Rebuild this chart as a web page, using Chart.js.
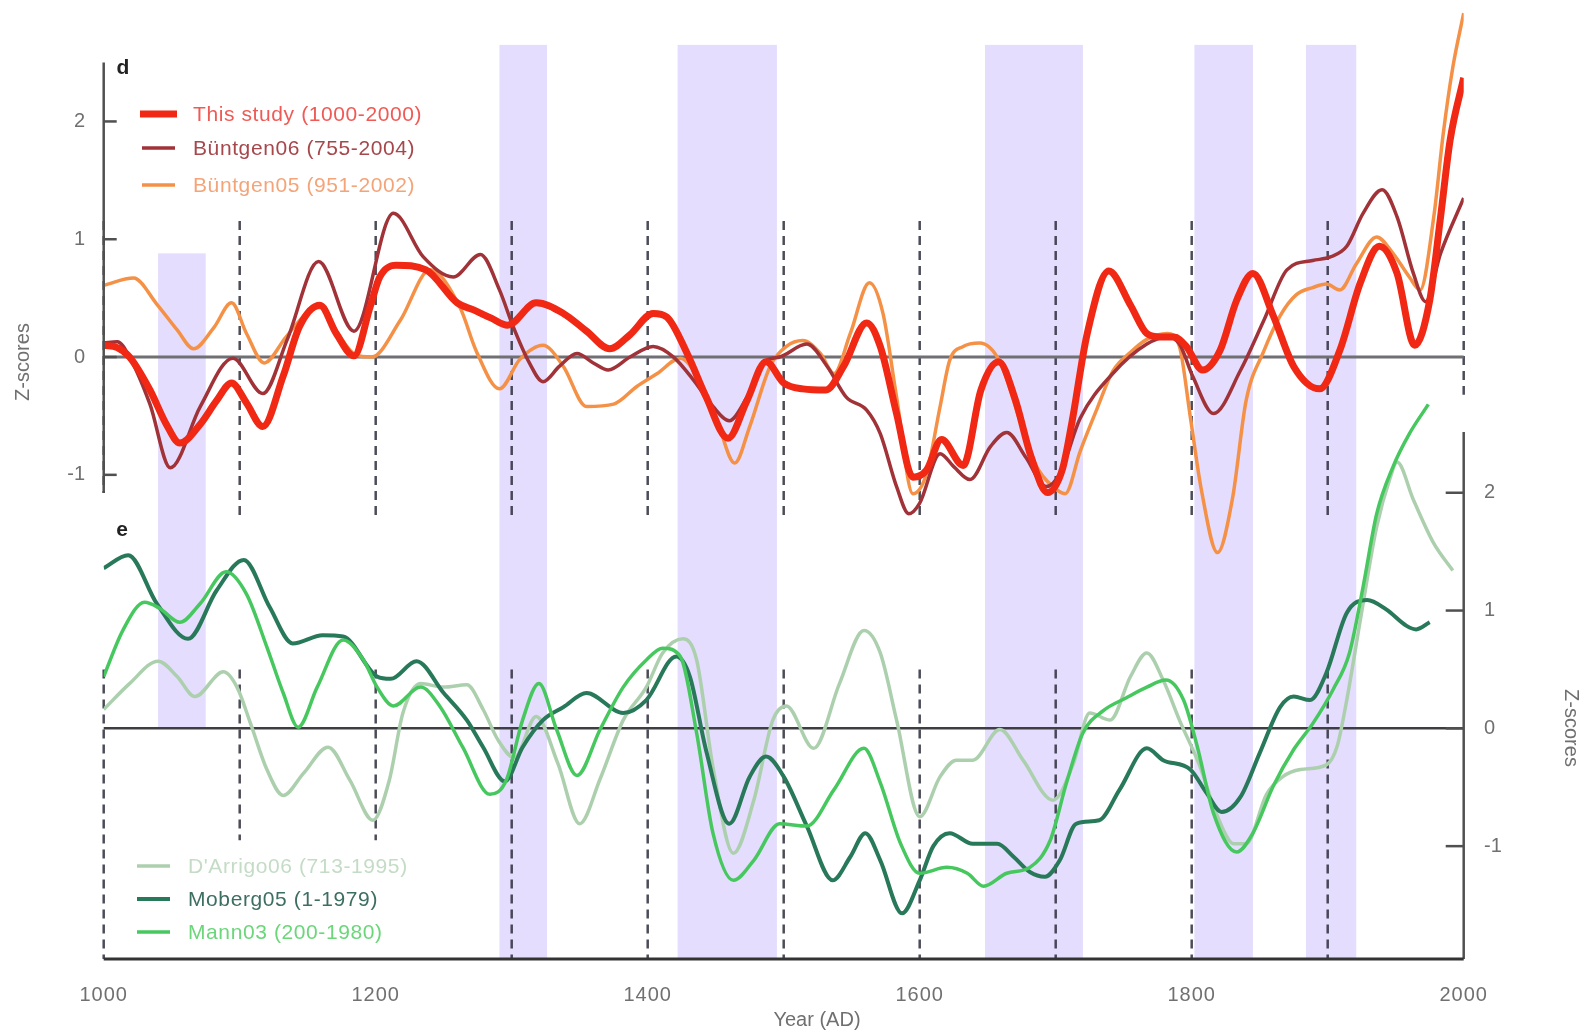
<!DOCTYPE html>
<html>
<head>
<meta charset="utf-8">
<title>Z-scores 1000-2000 AD</title>
<script src="https://cdn.jsdelivr.net/npm/chart.js@4.4.1/dist/chart.umd.min.js"></script>
<style>
  html, body { margin: 0; padding: 0; background: #fff; }
  canvas { display: block; }
</style>
</head>
<body>
<canvas id="chart" width="1591" height="1034"></canvas>
<script>
/* PANEL D - left axis */
const studyYears = [1000, 1010, 1019, 1034, 1046, 1056, 1071, 1083, 1094, 1105, 1117, 1132, 1144, 1159, 1171, 1184, 1196, 1203, 1215, 1237, 1260, 1272, 1285, 1297, 1318, 1338, 1355, 1372, 1387, 1404, 1414, 1429, 1443, 1459, 1473, 1487, 1500, 1514, 1531, 1544, 1561, 1571, 1583, 1595, 1605, 1616, 1632, 1645, 1658, 1670, 1682, 1694, 1705, 1712, 1723, 1739, 1755, 1767, 1777, 1787, 1796, 1808, 1821, 1833, 1845, 1860, 1875, 1894, 1909, 1924, 1938, 1951, 1964, 1975, 1983, 1990, 2000];
const studyZ = [0.10, 0.08, 0.00, -0.28, -0.57, -0.73, -0.57, -0.37, -0.22, -0.39, -0.59, -0.16, 0.26, 0.44, 0.20, 0.01, 0.43, 0.68, 0.78, 0.74, 0.46, 0.40, 0.33, 0.27, 0.46, 0.37, 0.22, 0.07, 0.19, 0.37, 0.34, 0.03, -0.34, -0.69, -0.37, -0.04, -0.22, -0.27, -0.28, -0.08, 0.29, 0.09, -0.48, -1.02, -0.96, -0.70, -0.92, -0.28, -0.04, -0.35, -0.85, -1.15, -0.95, -0.55, 0.19, 0.73, 0.44, 0.20, 0.17, 0.17, 0.09, -0.11, 0.06, 0.48, 0.71, 0.35, -0.08, -0.27, 0.06, 0.63, 0.94, 0.71, 0.10, 0.48, 1.19, 1.84, 2.37];

const b06Years = [1000, 1010, 1019, 1034, 1049, 1071, 1095, 1117, 1135, 1158, 1184, 1213, 1235, 1257, 1277, 1291, 1301, 1313, 1323, 1335, 1348, 1360, 1371, 1387, 1404, 1419, 1434, 1448, 1460, 1473, 1487, 1497, 1517, 1532, 1546, 1561, 1571, 1583, 1592, 1600, 1615, 1625, 1637, 1652, 1664, 1678, 1693, 1703, 1718, 1742, 1767, 1782, 1791, 1801, 1816, 1836, 1853, 1870, 1889, 1902, 1914, 1926, 1940, 1951, 1963, 1972, 1983, 2000];
const b06Z = [0.12, 0.13, 0.00, -0.40, -0.94, -0.42, -0.01, -0.31, 0.15, 0.81, 0.22, 1.22, 0.85, 0.68, 0.87, 0.57, 0.26, -0.05, -0.21, -0.08, 0.03, -0.05, -0.11, 0.00, 0.09, 0.00, -0.20, -0.42, -0.54, -0.34, -0.03, 0.00, 0.11, -0.08, -0.34, -0.45, -0.65, -1.10, -1.33, -1.24, -0.82, -0.93, -1.04, -0.76, -0.64, -0.85, -1.10, -0.99, -0.52, -0.14, 0.11, 0.17, 0.11, -0.17, -0.48, -0.11, 0.31, 0.74, 0.82, 0.85, 0.94, 1.22, 1.42, 1.19, 0.71, 0.47, 0.88, 1.35];

const b05Years = [1000, 1022, 1039, 1054, 1066, 1081, 1094, 1105, 1118, 1134, 1150, 1159, 1172, 1185, 1197, 1218, 1240, 1262, 1274, 1291, 1306, 1323, 1338, 1355, 1375, 1392, 1407, 1424, 1438, 1451, 1464, 1475, 1490, 1502, 1514, 1527, 1537, 1549, 1563, 1573, 1583, 1595, 1605, 1615, 1622, 1632, 1644, 1659, 1674, 1686, 1698, 1707, 1718, 1730, 1742, 1755, 1767, 1782, 1791, 1799, 1807, 1819, 1830, 1840, 1853, 1865, 1877, 1889, 1899, 1909, 1921, 1936, 1948, 1960, 1968, 1978, 1985, 1992, 2000];
const b05Z = [0.61, 0.67, 0.45, 0.23, 0.07, 0.25, 0.46, 0.20, -0.05, 0.17, 0.38, 0.42, 0.20, 0.02, 0.00, 0.31, 0.74, 0.42, 0.05, -0.27, -0.02, 0.10, -0.08, -0.42, -0.40, -0.25, -0.14, -0.01, -0.20, -0.54, -0.90, -0.59, -0.08, 0.09, 0.14, 0.03, -0.14, 0.20, 0.63, 0.37, -0.34, -1.16, -0.99, -0.42, -0.03, 0.09, 0.12, -0.04, -0.55, -0.93, -1.10, -1.16, -0.80, -0.45, -0.12, 0.04, 0.15, 0.20, 0.09, -0.51, -1.12, -1.66, -1.20, -0.37, 0.05, 0.35, 0.53, 0.59, 0.62, 0.57, 0.79, 1.02, 0.88, 0.68, 0.57, 1.19, 1.90, 2.46, 2.92];

/* PANEL E - right axis */
const darrigoYears = [1000, 1019, 1040, 1054, 1067, 1088, 1098, 1108, 1120, 1132, 1147, 1165, 1181, 1198, 1210, 1220, 1233, 1250, 1267, 1279, 1290, 1302, 1318, 1334, 1350, 1365, 1382, 1399, 1411, 1426, 1436, 1448, 1463, 1478, 1492, 1502, 1522, 1541, 1559, 1571, 1583, 1600, 1615, 1627, 1639, 1659, 1676, 1698, 1713, 1725, 1740, 1755, 1767, 1779, 1791, 1806, 1818, 1831, 1840, 1855, 1867, 1880, 1899, 1907, 1914, 1924, 1936, 1946, 1951, 1963, 1978, 1992];
const darrigoZ = [0.16, 0.38, 0.57, 0.44, 0.27, 0.48, 0.35, 0.04, -0.35, -0.57, -0.38, -0.16, -0.44, -0.78, -0.44, 0.13, 0.38, 0.35, 0.37, 0.16, -0.10, -0.25, 0.10, -0.30, -0.81, -0.43, 0.07, 0.35, 0.64, 0.76, 0.58, -0.33, -1.06, -0.61, 0.07, 0.19, -0.17, 0.38, 0.83, 0.64, 0.07, -0.75, -0.41, -0.27, -0.27, -0.01, -0.27, -0.61, -0.30, 0.13, 0.07, 0.44, 0.64, 0.41, 0.07, -0.32, -0.72, -0.98, -0.98, -0.56, -0.41, -0.35, -0.31, -0.15, 0.24, 0.92, 1.71, 2.13, 2.26, 1.94, 1.57, 1.34];

const mobergYears = [1000, 1018, 1039, 1062, 1083, 1103, 1122, 1139, 1161, 1176, 1201, 1211, 1230, 1250, 1267, 1279, 1295, 1308, 1323, 1338, 1355, 1382, 1399, 1421, 1431, 1443, 1460, 1475, 1487, 1500, 1517, 1536, 1549, 1560, 1571, 1587, 1600, 1610, 1622, 1639, 1657, 1669, 1681, 1692, 1703, 1715, 1732, 1747, 1767, 1779, 1799, 1811, 1822, 1836, 1850, 1865, 1875, 1887, 1899, 1914, 1929, 1943, 1958, 1965, 1975];
const mobergZ = [1.36, 1.47, 1.06, 0.76, 1.17, 1.43, 1.03, 0.72, 0.79, 0.78, 0.44, 0.42, 0.57, 0.30, 0.07, -0.16, -0.45, -0.16, 0.07, 0.18, 0.30, 0.13, 0.24, 0.61, 0.44, -0.19, -0.81, -0.41, -0.24, -0.41, -0.83, -1.29, -1.09, -0.89, -1.12, -1.57, -1.29, -1.00, -0.89, -0.98, -0.98, -1.09, -1.22, -1.26, -1.12, -0.81, -0.78, -0.52, -0.17, -0.27, -0.35, -0.55, -0.71, -0.58, -0.21, 0.18, 0.27, 0.24, 0.47, 0.98, 1.09, 1.01, 0.87, 0.84, 0.90];

const mannYears = [1000, 1014, 1030, 1041, 1056, 1071, 1090, 1105, 1120, 1132, 1143, 1157, 1176, 1191, 1201, 1213, 1233, 1247, 1264, 1284, 1296, 1308, 1320, 1333, 1348, 1365, 1382, 1399, 1411, 1424, 1436, 1448, 1463, 1478, 1497, 1517, 1537, 1559, 1571, 1586, 1600, 1620, 1635, 1647, 1664, 1681, 1696, 1708, 1720, 1735, 1752, 1767, 1781, 1794, 1804, 1816, 1833, 1845, 1860, 1875, 1889, 1904, 1916, 1926, 1936, 1948, 1960, 1974];
const mannZ = [0.44, 0.83, 1.07, 1.02, 0.90, 1.06, 1.33, 1.14, 0.69, 0.30, 0.01, 0.35, 0.75, 0.58, 0.35, 0.19, 0.35, 0.19, -0.16, -0.56, -0.44, 0.07, 0.38, -0.01, -0.40, -0.01, 0.35, 0.58, 0.68, 0.61, -0.04, -0.89, -1.29, -1.12, -0.81, -0.83, -0.52, -0.17, -0.46, -0.98, -1.23, -1.18, -1.23, -1.34, -1.23, -1.18, -0.95, -0.46, -0.04, 0.15, 0.26, 0.35, 0.41, 0.24, -0.15, -0.72, -1.05, -0.89, -0.49, -0.18, 0.04, 0.33, 0.64, 1.20, 1.82, 2.22, 2.50, 2.75];

/* shaded periods and axes */
const bandStart = [1040, 1291, 1422, 1648, 1802, 1884];
const bandEnd = [1075, 1326, 1495, 1720, 1845, 1921];
const centuries = [1000, 1100, 1200, 1300, 1400, 1500, 1600, 1700, 1800, 1900, 2000];
const yearTicks = [1000, 1200, 1400, 1600, 1800, 2000];
const zTicks = [-1, 0, 1, 2];

const FONT = '"Liberation Sans", Arial, sans-serif';

function points(xs, ys) {
  return xs.map((x, i) => ({ x: x, y: ys[i] }));
}

function seg(ctx, x0, y0, x1, y1) {
  ctx.beginPath();
  ctx.moveTo(x0, y0);
  ctx.lineTo(x1, y1);
  ctx.stroke();
}

const panelPlugin = {
  id: 'panels',
  beforeDatasetsDraw(chart) {
    const { ctx, scales: { x, yD, yE } } = chart;
    ctx.save();

    // shaded periods
    ctx.fillStyle = 'rgb(228, 221, 253)';
    bandStart.forEach((s, i) => {
      const x0 = x.getPixelForValue(s);
      const x1 = x.getPixelForValue(bandEnd[i]);
      const top = i === 0 ? yD.getPixelForValue(0.88) : yD.getPixelForValue(2.65);
      const bottom = i === 0 ? yE.getPixelForValue(0) : yE.bottom;
      ctx.fillRect(x0, top, x1 - x0, bottom - top);
    });

    // century markers (the 1100/1200 ones stop above the legend)
    ctx.setLineDash([9, 6]);
    ctx.lineWidth = 2.5;
    ctx.strokeStyle = 'rgba(45, 45, 60, 0.85)';
    centuries.forEach(c => {
      const px = x.getPixelForValue(c);
      const low = c === 1000 ? -1.155 : (c === 2000 ? -0.32 : -1.34);
      seg(ctx, px, yD.getPixelForValue(1.155), px, yD.getPixelForValue(low));
      if (c === 2000) return;
      const end = (c === 1100 || c === 1200) ? yE.getPixelForValue(-0.95) : yE.bottom;
      seg(ctx, px, yE.getPixelForValue(0.5), px, end);
    });
    ctx.setLineDash([]);

    // zero lines
    ctx.lineWidth = 3;
    ctx.strokeStyle = '#6f6f74';
    seg(ctx, x.getPixelForValue(1000), yD.getPixelForValue(0), x.getPixelForValue(2000), yD.getPixelForValue(0));
    ctx.lineWidth = 2.5;
    ctx.strokeStyle = '#3e3e42';
    seg(ctx, x.getPixelForValue(1000), yE.getPixelForValue(0), x.getPixelForValue(2000), yE.getPixelForValue(0));
    ctx.restore();
  },
  afterDatasetsDraw(chart) {
    const { ctx, scales: { x, yD, yE } } = chart;
    const left = x.getPixelForValue(1000);
    const right = x.getPixelForValue(2000);
    ctx.save();

    // axis lines
    ctx.strokeStyle = '#505050';
    ctx.lineWidth = 2.5;
    seg(ctx, left, yD.getPixelForValue(2.5), left, yD.getPixelForValue(-1.155));
    seg(ctx, right, yE.getPixelForValue(2.515), right, yE.bottom);
    zTicks.forEach(t => {
      const pl = yD.getPixelForValue(t);
      seg(ctx, left, pl, left + 13, pl);
      const pr = yE.getPixelForValue(t);
      seg(ctx, right - 18, pr, right, pr);
    });
    ctx.strokeStyle = '#333';
    ctx.lineWidth = 3;
    seg(ctx, left, yE.bottom, right, yE.bottom);

    // tick labels
    ctx.font = '20px ' + FONT;
    ctx.fillStyle = '#707070';
    ctx.textBaseline = 'middle';
    ctx.textAlign = 'right';
    zTicks.forEach(t => ctx.fillText(String(t), 85, yD.getPixelForValue(t)));
    ctx.textAlign = 'left';
    zTicks.forEach(t => ctx.fillText(String(t), 1484, yE.getPixelForValue(t)));
    ctx.textAlign = 'center';
    ctx.letterSpacing = '1px';
    yearTicks.forEach(t => ctx.fillText(String(t), x.getPixelForValue(t), 995));
    ctx.letterSpacing = '0px';
    ctx.fillText('Year (AD)', 817, 1020);

    // axis titles
    ctx.save();
    ctx.translate(23, 362);
    ctx.rotate(-Math.PI / 2);
    ctx.fillText('Z-scores', 0, 0);
    ctx.restore();
    ctx.save();
    ctx.translate(1571, 728);
    ctx.rotate(Math.PI / 2);
    ctx.fillText('Z-scores', 0, 0);
    ctx.restore();

    // panel letters
    ctx.font = 'bold 21px ' + FONT;
    ctx.fillStyle = '#222';
    ctx.fillText('d', 123, 68);
    ctx.fillText('e', 122, 530);

    // legends
    const rows = [
      [140, 177, 114, 'rgb(240, 40, 20)', 7, 'This study (1000-2000)', '#ef5a55', 193],
      [142, 175, 148, 'rgb(160, 50, 56)', 3.5, 'Büntgen06 (755-2004)', '#a6474b', 193],
      [142, 175, 185, 'rgb(245, 145, 70)', 3.5, 'Büntgen05 (951-2002)', '#f4a478', 193],
      [137, 170, 866, 'rgb(172, 208, 174)', 3.5, "D'Arrigo06 (713-1995)", '#c4dcc6', 188],
      [137, 170, 899, 'rgb(40, 120, 90)', 4, 'Moberg05 (1-1979)', '#3d6e62', 188],
      [137, 170, 932, 'rgb(70, 200, 95)', 3.5, 'Mann03 (200-1980)', '#6bd67a', 188]
    ];
    ctx.textAlign = 'left';
    ctx.font = '21px ' + FONT;
    ctx.letterSpacing = '0.6px';
    rows.forEach(r => {
      ctx.strokeStyle = r[3];
      ctx.lineWidth = r[4];
      seg(ctx, r[0], r[2], r[1], r[2]);
      ctx.fillStyle = r[6];
      ctx.fillText(r[5], r[7], r[2] + 1);
    });
    ctx.restore();
  }
};

function series(xs, ys, color, width, axis) {
  return {
    data: points(xs, ys),
    borderColor: color,
    backgroundColor: 'transparent',
    borderWidth: width,
    pointRadius: 0,
    cubicInterpolationMode: 'monotone',
    yAxisID: axis
  };
}

new Chart(document.getElementById('chart'), {
  type: 'line',
  data: {
    datasets: [
      series(studyYears, studyZ, 'rgb(240, 40, 20)', 7, 'yD'),
      series(b06Years, b06Z, 'rgb(160, 50, 56)', 3.5, 'yD'),
      series(b05Years, b05Z, 'rgb(245, 145, 70)', 3.5, 'yD'),
      series(mannYears, mannZ, 'rgb(70, 200, 95)', 3.5, 'yE'),
      series(mobergYears, mobergZ, 'rgb(40, 120, 90)', 4, 'yE'),
      series(darrigoYears, darrigoZ, 'rgb(172, 208, 174)', 3.5, 'yE')
    ]
  },
  options: {
    responsive: false,
    animation: false,
    layout: {
      padding: { top: 8, right: 127.3, bottom: 75, left: 103.7 }
    },
    plugins: {
      legend: { display: false },
      tooltip: { enabled: false }
    },
    scales: {
      x: { type: 'linear', min: 1000, max: 2000, display: false },
      yD: { type: 'linear', min: -5.110, max: 2.963, display: false },
      yE: { type: 'linear', min: -1.958, max: 6.115, display: false }
    }
  },
  plugins: [panelPlugin]
});
</script>
</body>
</html>
